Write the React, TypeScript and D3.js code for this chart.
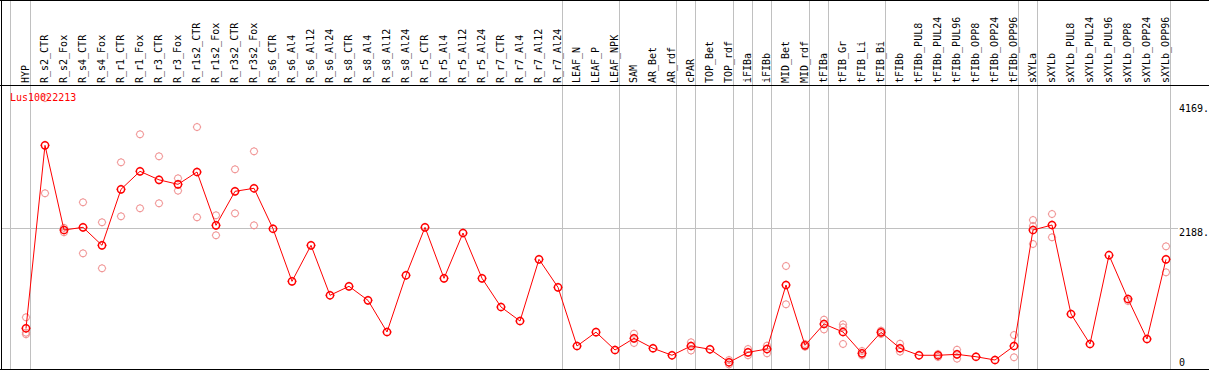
import React from "react";
import * as d3 from "d3";

const geneId = "Lus10022213";

const categories = [
  "HYP", "R_s2_CTR", "R_s2_Fox", "R_s4_CTR", "R_s4_Fox", "R_r1_CTR", "R_r1_Fox", "R_r3_CTR", "R_r3_Fox",
  "R_r1s2_CTR", "R_r1s2_Fox", "R_r3s2_CTR", "R_r3s2_Fox", "R_s6_CTR", "R_s6_Al4", "R_s6_Al12", "R_s6_Al24",
  "R_s8_CTR", "R_s8_Al4", "R_s8_Al12", "R_s8_Al24", "R_r5_CTR", "R_r5_Al4", "R_r5_Al12", "R_r5_Al24",
  "R_r7_CTR", "R_r7_Al4", "R_r7_Al12", "R_r7_Al24", "LEAF_N", "LEAF_P", "LEAF_NPK", "SAM", "AR_Bet", "AR_rdf",
  "cPAR", "TOP_Bet", "TOP_rdf", "iFIBa", "iFIBb", "MID_Bet", "MID_rdf", "tFIBa", "tFIB_Gr", "tFIB_Li", "tFIB_Bi",
  "tFIBb", "tFIBb_PUL8", "tFIBb_PUL24", "tFIBb_PUL96", "tFIBb_OPP8", "tFIBb_OPP24", "tFIBb_OPP96",
  "sXYLa", "sXYLb", "sXYLb_PUL8", "sXYLb_PUL24", "sXYLb_PUL96", "sXYLb_OPP8", "sXYLb_OPP24", "sXYLb_OPP96",
];

const meanValues = [
  598, 3498, 2156, 2198, 1913, 2801, 3086, 2951, 2880, 3075, 2230, 2769, 2817,
  2176, 1342, 1913, 1121, 1263, 1041, 539, 1438, 2198, 1390, 2108, 1390, 935, 713, 1691, 1247,
  317, 536, 254, 439, 281, 170, 317, 265, 59, 217, 269, 1284, 328, 666, 539, 201, 534,
  281, 170, 170, 185, 147, 95, 317, 2156, 2235, 824, 349, 1756, 1062, 428, 1691,
];

const replicateValues: number[][] = [
  [772, 528, 503], [4248, 2738], [2190, 2120], [2595, 1786], [2278, 1549], [3229, 2373], [3673, 2500],
  [3324, 2579], [2975, 2779], [3788, 2357], [2389, 2072], [3118, 2420], [3403, 2230],
  [], [], [], [], [], [], [], [], [], [], [], [], [], [], [], [], [], [], [],
  [512, 365], [], [], [376, 245], [], [95, 25], [269, 170], [322, 201], [1585, 978], [349, 305],
  [734, 580], [661, 613, 349], [238, 170], [560, 507], [353, 227], [], [190, 143], [258, 116], [], [],
  [491, 138], [2314, 2219, 1934], [2409, 2040], [], [], [], [1030], [], [1897, 1485],
];

// indices of the last category in each group (a gray separator follows them)
const groupEnds = [0, 28, 31, 34, 35, 37, 38, 39, 41, 42, 45, 52, 53, 60];

const yTicks = [0, 2188, 4169];
const yMax = 4169;

const FONT = "'DejaVu Sans Mono', monospace";
const RED = "#ff0000";
const PALE = "#f08c8c";
const GRID = "#c0c0c0";

function Marker({ cx, cy, r, color, sw, tick }: { cx: number; cy: number; r: number; color: string; sw: number; tick: number }) {
  const t = `M${cx - r - tick},${cy}H${cx - r}M${cx + r},${cy}H${cx + r + tick}M${cx},${cy - r - tick}V${cy - r}M${cx},${cy + r}V${cy + r + tick}`;
  return (
    <g>
      <circle cx={cx} cy={cy} r={r} fill="none" stroke={color} strokeWidth={sw} />
      <path d={t} stroke={color} strokeWidth={0.8} fill="none" />
    </g>
  );
}

export default function App() {
  const W = 1209;
  const H = 370;
  const x = d3.scalePoint<string>().domain(categories).range([26, 1166]);
  const y = d3.scaleLinear().domain([0, yMax]).range([366, 103]);
  const line = d3
    .line<number>()
    .x((_, i) => x(categories[i])!)
    .y((d) => y(d));

  return (
    <>
      <style>{`body{margin:0;}`}</style>
      <svg width={W} height={H} style={{ display: "block", background: "#fff" }}>
        {/* gray vertical separators */}
        <g shapeRendering="crispEdges" stroke={GRID} strokeWidth={1}>
          <line x1={10.5} x2={10.5} y1={0} y2={H} />
          {groupEnds.map((gi) => {
            const xx = Math.round(x(categories[gi])! + 4) + 0.5;
            return <line key={gi} x1={xx} x2={xx} y1={0} y2={H} />;
          })}
          {/* middle horizontal gridline */}
          <line x1={1} x2={1178} y1={Math.round(y(yTicks[1])) + 0.5} y2={Math.round(y(yTicks[1])) + 0.5} />
        </g>

        {/* frame */}
        <g shapeRendering="crispEdges" stroke="#000" strokeWidth={1}>
          <line x1={0} x2={W} y1={0.5} y2={0.5} />
          <line x1={0} x2={W} y1={85.5} y2={85.5} />
          <line x1={0} x2={W} y1={369.5} y2={369.5} />
          <line x1={1.5} x2={1.5} y1={0} y2={H} />
        </g>

        {/* category labels */}
        <g fontFamily={FONT} fontSize={10} fill="#000">
          {categories.map((c) => {
            const bx = x(c)! + 3;
            return (
              <text key={c} transform={`translate(${bx},83) rotate(-90)`} textAnchor="start">
                {c}
              </text>
            );
          })}
        </g>

        {/* y labels */}
        <g fontFamily={FONT} fontSize={10} fill="#000">
          {yTicks.map((t) => (
            <text key={t} x={1179} y={t === 0 ? y(t) : y(t) + 8.5}>
              {t === 0 ? "0" : `${t}.`}
            </text>
          ))}
        </g>

        {/* replicate points */}
        <g>
          {replicateValues.map((reps, i) =>
            reps.map((v, j) => (
              <Marker key={`${i}-${j}`} cx={x(categories[i])!} cy={y(v)} r={3.5} color={PALE} sw={1} tick={0.7} />
            ))
          )}
        </g>

        {/* mean line */}
        <path d={line(meanValues)!} fill="none" stroke={RED} strokeWidth={1} />
        <g>
          {meanValues.map((v, i) => (
            <Marker key={i} cx={x(categories[i])!} cy={y(v)} r={3.6} color={RED} sw={1.5} tick={1} />
          ))}
        </g>

        <text x={10} y={101} fontFamily={FONT} fontSize={10} fill={RED}>
          {geneId}
        </text>
      </svg>
    </>
  );
}
